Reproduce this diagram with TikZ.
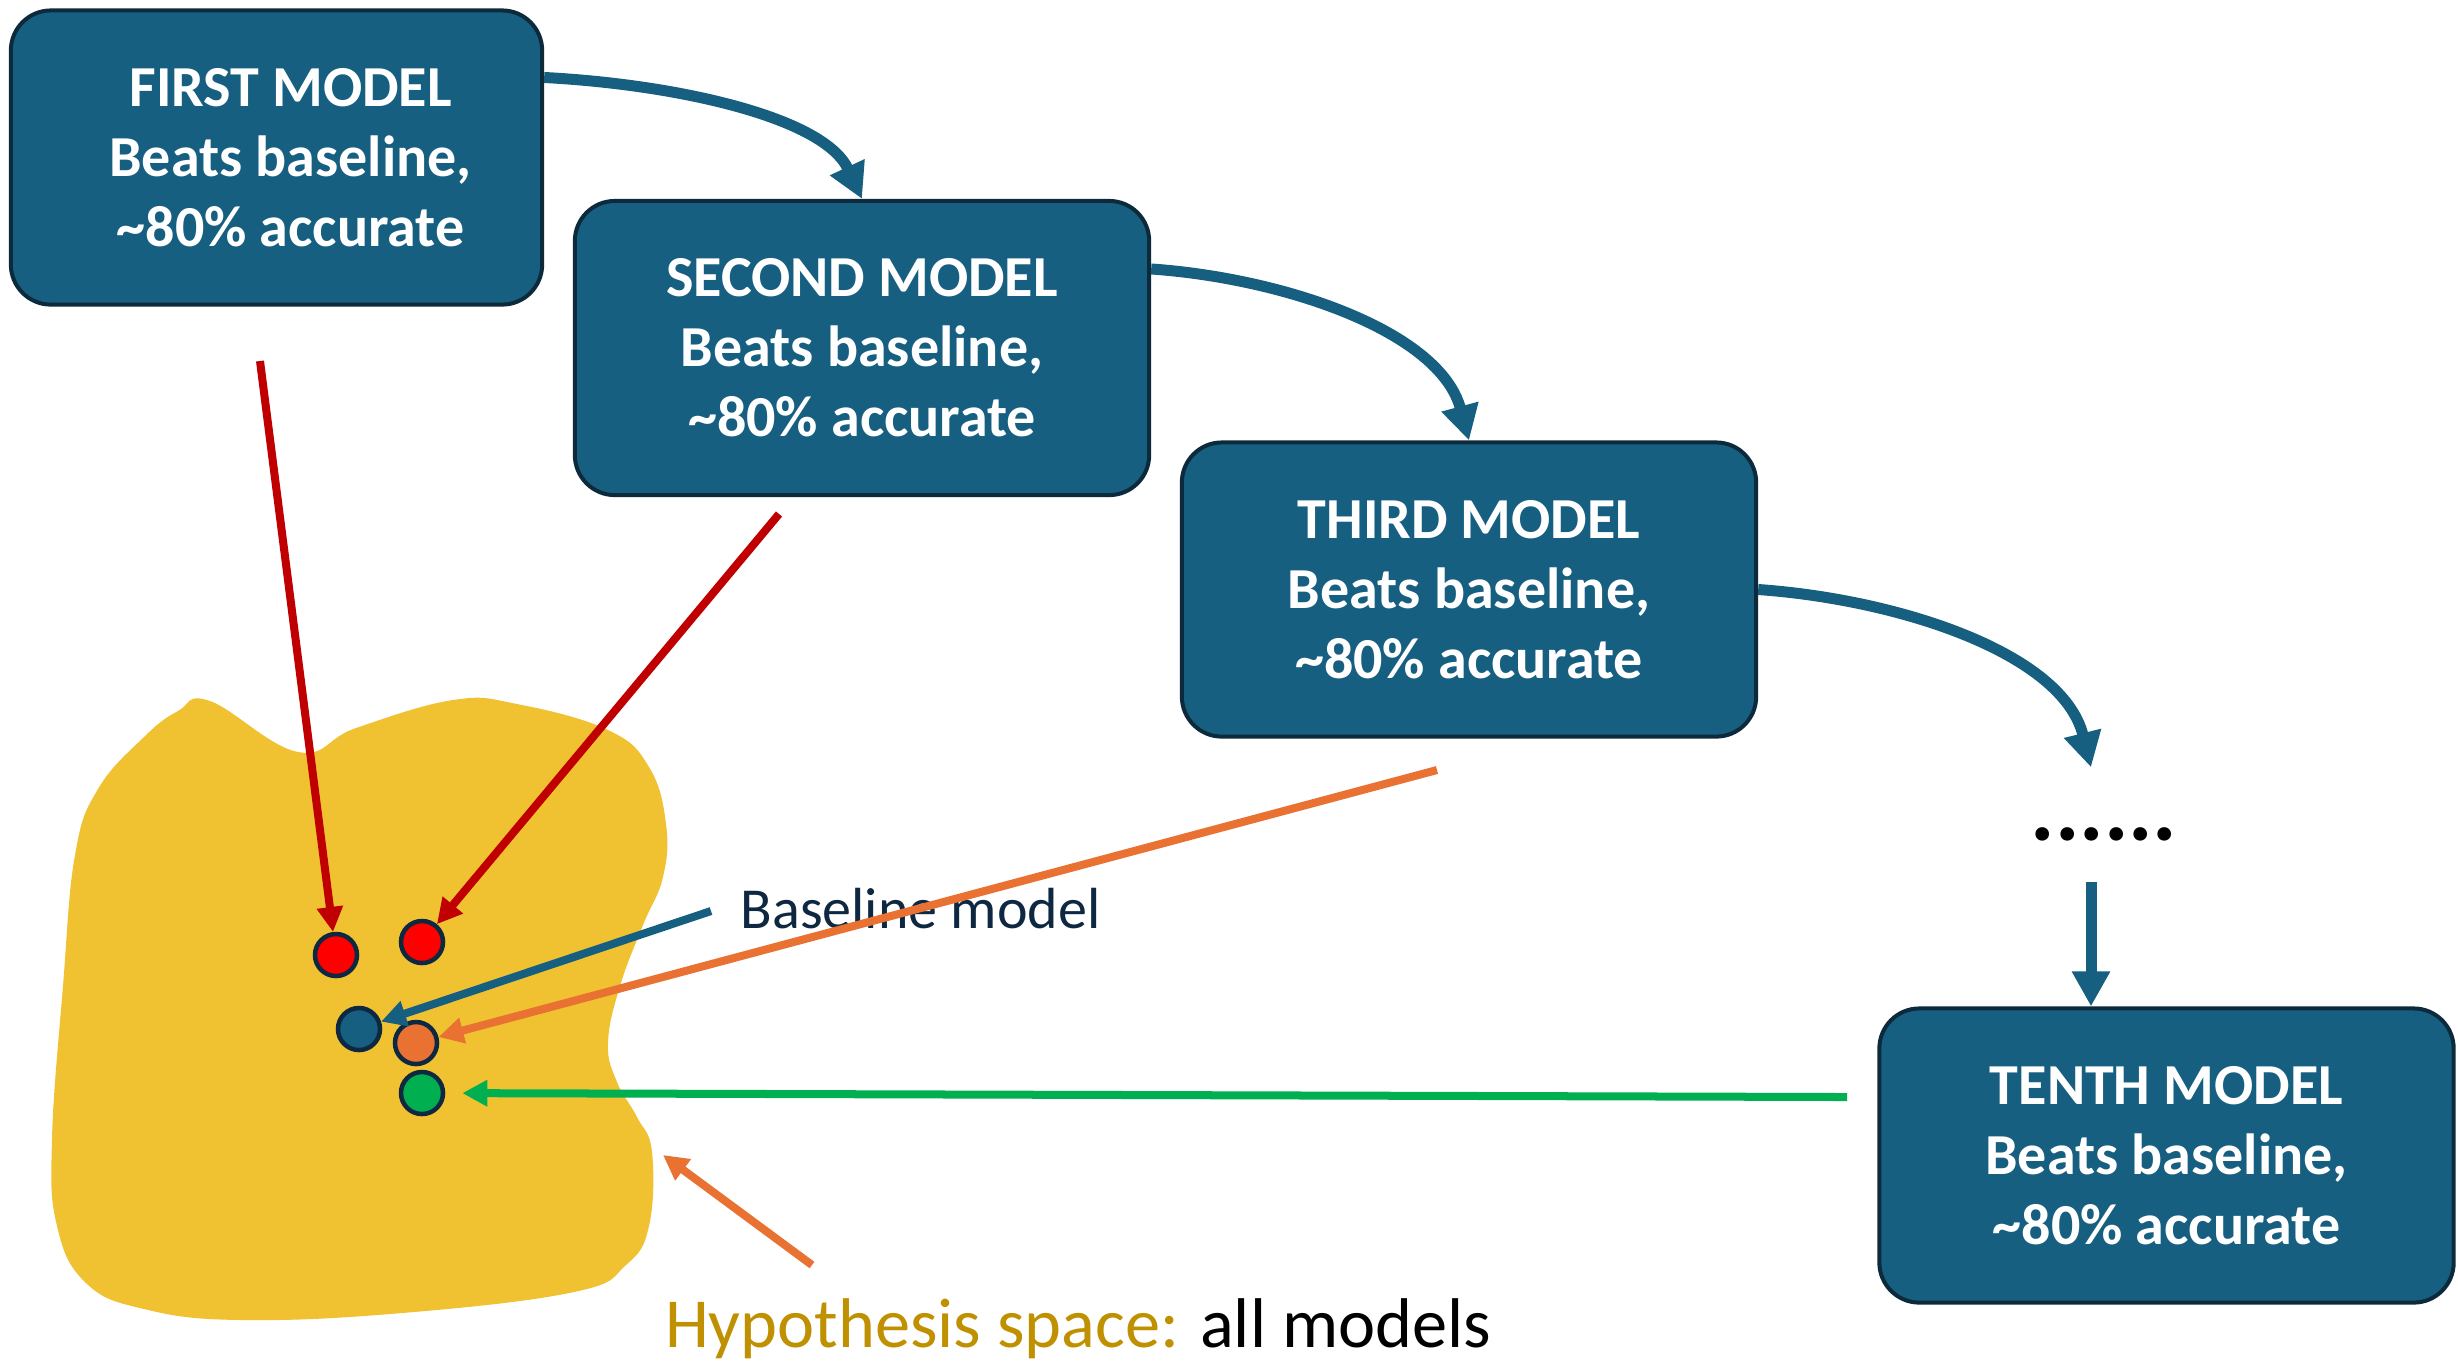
\documentclass[tikz,border=0pt]{standalone}
\usepackage{fontspec}
\setmainfont{Carlito}
\usetikzlibrary{arrows.meta}
\definecolor{boxblue}{HTML}{175F80}
\definecolor{boxedge}{HTML}{0C2A3B}
\definecolor{blobgold}{HTML}{F0C232}
\definecolor{redarrow}{HTML}{C00000}
\definecolor{orangearr}{HTML}{E97132}
\definecolor{greenarr}{HTML}{00B050}
\definecolor{navytext}{HTML}{0E2841}
\definecolor{goldtext}{HTML}{BF9000}
\begin{document}
\begin{tikzpicture}[x=0.01cm, y=-0.01cm,
  modelbox/.style={draw=boxedge, line width=0.04cm, fill=boxblue, rounded corners=0.4cm,
    text=white, font=\fontsize{16.5}{19.9}\selectfont\bfseries, align=center,
    minimum width=5.74cm, minimum height=2.94cm, inner sep=0},
  flowarrow/.style={draw=boxblue, line width=0.11cm, -{Triangle[length=0.35cm, width=0.36cm]}},
  pointarrow/.style={line width=0.08cm, -{Triangle[length=0.25cm, width=0.25cm]}},
  modeldot/.style={circle, draw=navytext, line width=0.045cm, minimum size=0.42cm, inner sep=0},
]
\useasboundingbox (0,0) rectangle (2458,1365);

% hypothesis space
\fill[blobgold] plot[smooth cycle, tension=0.7] coordinates {
  (210,701) (298,752) (356,728) (453,700) (517,704) (608,730) (649,767) (666,824)
  (663,877) (643,925) (620,986) (608,1043) (617,1082) (637,1117) (652,1152)
  (649,1226) (626,1265) (574,1292) (402,1313) (241,1320) (144,1309) (86,1283)
  (57,1226) (52,1139) (63,986) (75,855) (98,789) (144,737) (178,711)};

% models
\node[modelbox, minimum width=5.31cm] (b1) at (276.5,157.5)
  {\hspace*{0.28cm}FIRST MODEL\\\hspace*{0.28cm}Beats baseline,\\\hspace*{0.28cm}\textasciitilde80\% accurate};
\node[modelbox] (b2) at (862,348) {SECOND MODEL\\Beats baseline,\\\textasciitilde80\% accurate};
\node[modelbox] (b3) at (1469,589.5) {THIRD MODEL\\Beats baseline,\\\textasciitilde80\% accurate};
\node[modelbox] (b4) at (2166.5,1155.5) {TENTH MODEL\\Beats baseline,\\\textasciitilde80\% accurate};
\node[inner sep=0, minimum height=1.5cm, font=\fontsize{26}{30}\selectfont\bfseries] (etc) at (2104,834) {......};

% chain of models
\draw[flowarrow] ([yshift=-0.69cm]b1.north east)
  to[out=-3, in=115, out looseness=1.0, in looseness=0.68] (b2.north);
\draw[flowarrow] ([yshift=-0.70cm]b2.north east)
  to[out=-4, in=105, out looseness=0.95, in looseness=0.8] (b3.north);
\coordinate (a3e) at ([xshift=-0.13cm, yshift=-0.09cm]etc.north);
\coordinate (a4s) at ([xshift=-0.13cm, yshift=0.28cm]etc.south);
\draw[flowarrow] (b3.east)
  to[out=-4, in=104, out looseness=0.95, in looseness=0.8] (a3e);
\draw[flowarrow] (a4s) -- (a4s |- b4.north);

% points in the space
\node[modeldot, fill=red] (dr1) at (336,955) {};
\node[modeldot, fill=red] (dr2) at (422,942) {};
\node[modeldot, fill=boxblue] (dbl) at (359,1029) {};
\node[modeldot, fill=orangearr] (dor) at (416,1043) {};
\node[modeldot, fill=greenarr] (dgr) at (422,1093) {};

\node[anchor=base west, inner sep=0, text=navytext, font=\fontsize{16.5}{20}\selectfont] (bltext) at (740,928) {Baseline model};
\node[anchor=base, inner sep=0, font=\fontsize{20}{24}\selectfont] (hyp) at (1078,1347) {\textcolor{goldtext}{Hypothesis space:} all models};

\coordinate (r1s) at (260,361);
\coordinate (r2s) at (779,514);
\coordinate (bls) at (711,911);
\coordinate (o1s) at (1437,770);
\coordinate (gs) at (1847,1097);
\coordinate (o2s) at (812,1265);
\coordinate (o2e) at (663,1155);

\draw[pointarrow, redarrow] (r1s) -- (dr1);
\draw[pointarrow, redarrow] (r2s) -- (dr2);
\draw[pointarrow, boxblue] (bls) -- (dbl);
\draw[pointarrow, orangearr] (o1s) -- (dor);
\draw[pointarrow, greenarr, shorten >=0.17cm] (gs) -- (dgr);
\draw[pointarrow, orangearr] (o2s) -- (o2e);
\end{tikzpicture}
\end{document}
